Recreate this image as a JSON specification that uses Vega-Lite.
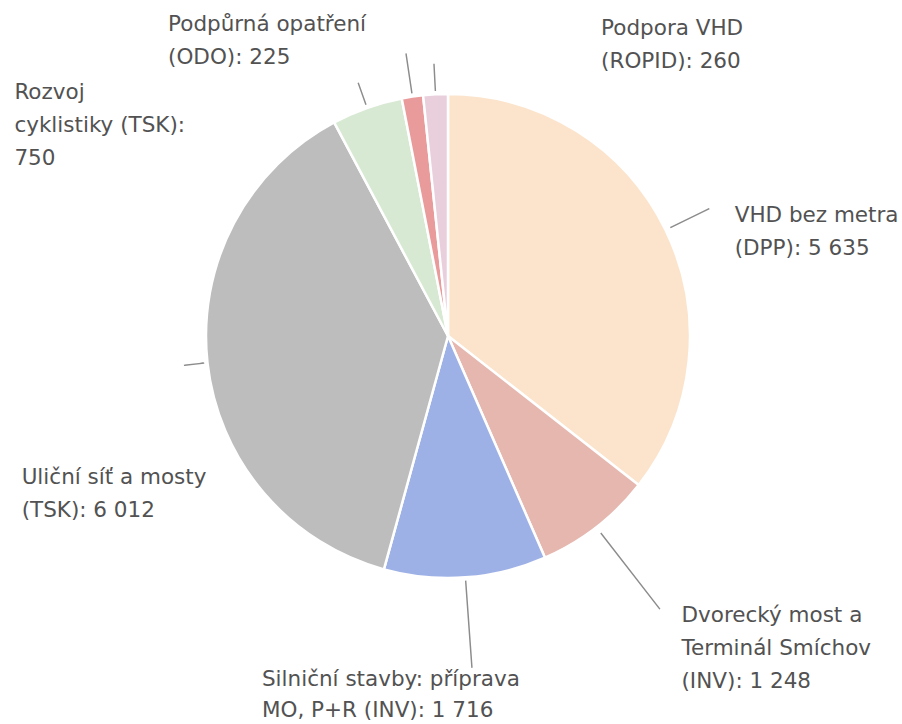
{
  "$schema": "https://vega.github.io/schema/vega-lite/v6.json",
  "width": 896,
  "height": 672,
  "autosize": {"type": "none"},
  "padding": {"left": 0, "top": 0, "right": 6, "bottom": 52},
  "background": "white",
  "config": {"view": {"stroke": null}, "text": {"font": "DejaVu Sans", "fontSize": 21.5, "fill": "#525252", "align": "left", "baseline": "alphabetic", "lineBreak": "\n", "lineHeight": 33}},
  "data": {
    "values": [
      {"order": 1, "category": "VHD bez metra (DPP)", "name": "VHD bez metra\n(DPP): ", "value": 5635},
      {"order": 2, "category": "Dvorecký most a Terminál Smíchov (INV)", "name": "Dvorecký most a\nTerminál Smíchov\n(INV): ", "value": 1248},
      {"order": 3, "category": "Silniční stavby: příprava MO, P+R (INV)", "name": "Silniční stavby: příprava\nMO, P+R (INV): ", "value": 1716},
      {"order": 4, "category": "Uliční síť a mosty (TSK)", "name": "Uliční síť  a mosty\n(TSK): ", "value": 6012},
      {"order": 5, "category": "Rozvoj cyklistiky (TSK)", "name": "Rozvoj\ncyklistiky (TSK):\n", "value": 750},
      {"order": 6, "category": "Podpůrná opatření (ODO)", "name": "Podpůrná opatření\n(ODO): ", "value": 225},
      {"order": 7, "category": "Podpora VHD (ROPID)", "name": "Podpora VHD\n(ROPID): ", "value": 260}
    ]
  },
  "transform": [
    {"window": [{"op": "sum", "field": "value", "as": "cum"}], "sort": [{"field": "order"}], "frame": [null, 0]},
    {"calculate": "datum.cum - datum.value / 2", "as": "mid"},
    {"calculate": "datum.mid + 0.5", "as": "mid2"},
    {"calculate": "datum.name + replace(format(datum.value, ','), ',', ' ')", "as": "label"}
  ],
  "layer": [
    {
      "mark": {"type": "arc", "radius": 242, "stroke": "white", "strokeWidth": 2.5},
      "encoding": {
        "theta": {"field": "value", "type": "quantitative", "stack": true},
        "order": {"field": "order", "type": "quantitative"},
        "color": {
          "field": "category",
          "type": "nominal",
          "legend": null,
          "scale": {
            "domain": ["VHD bez metra (DPP)", "Dvorecký most a Terminál Smíchov (INV)", "Silniční stavby: příprava MO, P+R (INV)", "Uliční síť a mosty (TSK)", "Rozvoj cyklistiky (TSK)", "Podpůrná opatření (ODO)", "Podpora VHD (ROPID)"],
            "range": ["#FCE4CC", "#E5B7AE", "#9EB1E6", "#BDBDBD", "#D8E9D3", "#E99A9A", "#E9CFDC"]
          }
        }
      }
    },
    {"transform": [{"filter": "datum.order == 1"}], "mark": {"type": "arc", "radius2": 248, "radius": 290, "fill": "transparent", "stroke": "#8c8c8c", "strokeWidth": 1.4}, "encoding": {"theta": {"field": "mid", "type": "quantitative", "stack": null}, "theta2": {"field": "mid2"}}},
    {"transform": [{"filter": "datum.order == 2"}], "mark": {"type": "arc", "radius2": 250, "radius": 345, "fill": "transparent", "stroke": "#8c8c8c", "strokeWidth": 1.4}, "encoding": {"theta": {"field": "mid", "type": "quantitative", "stack": null}, "theta2": {"field": "mid2"}}},
    {"transform": [{"filter": "datum.order == 3"}], "mark": {"type": "arc", "radius2": 246, "radius": 332, "fill": "transparent", "stroke": "#8c8c8c", "strokeWidth": 1.4}, "encoding": {"theta": {"field": "mid", "type": "quantitative", "stack": null}, "theta2": {"field": "mid2"}}},
    {"transform": [{"filter": "datum.order == 4"}], "mark": {"type": "arc", "radius2": 246, "radius": 265, "fill": "transparent", "stroke": "#8c8c8c", "strokeWidth": 1.4}, "encoding": {"theta": {"field": "mid", "type": "quantitative", "stack": null}, "theta2": {"field": "mid2"}}},
    {"transform": [{"filter": "datum.order == 5"}], "mark": {"type": "arc", "radius2": 246, "radius": 268, "fill": "transparent", "stroke": "#8c8c8c", "strokeWidth": 1.4}, "encoding": {"theta": {"field": "mid", "type": "quantitative", "stack": null}, "theta2": {"field": "mid2"}}},
    {"transform": [{"filter": "datum.order == 6"}], "mark": {"type": "arc", "radius2": 246, "radius": 285, "fill": "transparent", "stroke": "#8c8c8c", "strokeWidth": 1.4}, "encoding": {"theta": {"field": "mid", "type": "quantitative", "stack": null}, "theta2": {"field": "mid2"}}},
    {"transform": [{"filter": "datum.order == 7"}], "mark": {"type": "arc", "radius2": 246, "radius": 272, "fill": "transparent", "stroke": "#8c8c8c", "strokeWidth": 1.4}, "encoding": {"theta": {"field": "mid", "type": "quantitative", "stack": null}, "theta2": {"field": "mid2"}}},
    {"transform": [{"filter": "datum.order == 1"}], "mark": {"type": "text", "radius": 290, "dx": 26, "dy": 13}, "encoding": {"theta": {"field": "mid", "type": "quantitative", "stack": null}, "text": {"field": "label"}}},
    {"transform": [{"filter": "datum.order == 2"}], "mark": {"type": "text", "radius": 345, "dx": 22, "dy": 13}, "encoding": {"theta": {"field": "mid", "type": "quantitative", "stack": null}, "text": {"field": "label"}}},
    {"transform": [{"filter": "datum.order == 3"}], "mark": {"type": "text", "radius": 332, "dx": -210, "dy": 19, "lineHeight": 31}, "encoding": {"theta": {"field": "mid", "type": "quantitative", "stack": null}, "text": {"field": "label"}}},
    {"transform": [{"filter": "datum.order == 4"}], "mark": {"type": "text", "radius": 265, "dx": -163, "dy": 119}, "encoding": {"theta": {"field": "mid", "type": "quantitative", "stack": null}, "text": {"field": "label"}}},
    {"transform": [{"filter": "datum.order == 5"}], "mark": {"type": "text", "radius": 265, "dx": -345, "dy": 13}, "encoding": {"theta": {"field": "mid", "type": "quantitative", "stack": null}, "text": {"field": "label"}}},
    {"transform": [{"filter": "datum.order == 6"}], "mark": {"type": "text", "radius": 285, "dx": -238, "dy": -23}, "encoding": {"theta": {"field": "mid", "type": "quantitative", "stack": null}, "text": {"field": "label"}}},
    {"transform": [{"filter": "datum.order == 7"}], "mark": {"type": "text", "radius": 270, "dx": 167, "dy": -31}, "encoding": {"theta": {"field": "mid", "type": "quantitative", "stack": null}, "text": {"field": "label"}}}
  ]
}
